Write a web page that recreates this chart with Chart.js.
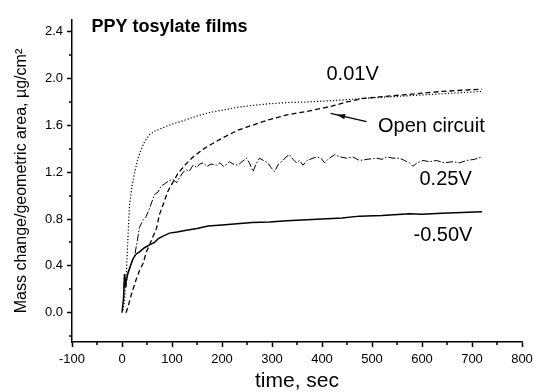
<!DOCTYPE html>
<html>
<head>
<meta charset="utf-8">
<script src="https://cdn.jsdelivr.net/npm/chart.js@4/dist/chart.umd.min.js"></script>
<style>
  html, body { margin: 0; padding: 0; background: #fff; }
  #wrap { width: 534px; height: 392px; }
</style>
</head>
<body>
<div id="wrap"><canvas id="c" width="534" height="392"></canvas></div>
<script>
// PPY tosylate films — mass change vs time, four potentials

// axis ticks
const X_TICKS = [-100, 0, 100, 200, 300, 400, 500, 600, 700, 800];
const X_MINOR = [-50, 50, 150, 250, 350, 450, 550, 650, 750];
const Y_TICKS = [0.0, 0.4, 0.8, 1.2, 1.6, 2.0, 2.4];
const Y_MINOR = [-0.2, 0.2, 0.6, 1.0, 1.4, 1.8, 2.2];

// 0.01V (dotted)
const T_001 = [2, 5, 9, 12, 15, 20, 25, 32, 38, 45, 55, 65, 82, 100, 122, 150, 175, 200, 232, 260, 295, 330, 370, 415, 450, 482, 520, 560, 600, 640, 680, 720];
const V_001 = [0.02, 0.10, 0.36, 0.65, 0.92, 1.08, 1.19, 1.32, 1.39, 1.46, 1.52, 1.55, 1.58, 1.61, 1.64, 1.68, 1.71, 1.73, 1.755, 1.77, 1.785, 1.795, 1.80, 1.81, 1.82, 1.83, 1.84, 1.85, 1.86, 1.87, 1.88, 1.89];

// open circuit (dashed)
const T_OC = [8, 12, 19, 28, 35, 42, 49, 55, 62, 69, 75, 82, 92, 100, 112, 128, 142, 160, 175, 200, 232, 260, 295, 330, 370, 415, 450, 482, 520, 560, 600, 640, 680, 720];
const V_OC = [0.0, 0.05, 0.16, 0.28, 0.36, 0.42, 0.52, 0.58, 0.65, 0.72, 0.84, 0.92, 1.04, 1.10, 1.19, 1.27, 1.33, 1.39, 1.43, 1.49, 1.56, 1.60, 1.65, 1.69, 1.72, 1.76, 1.80, 1.83, 1.845, 1.86, 1.875, 1.89, 1.90, 1.91];

// 0.25V (dash-dot, noisy)
const T_025 = [3, 5, 8, 10, 12, 16, 20, 25, 30, 35, 42, 48, 55, 60, 65, 72, 78, 85, 95, 102, 109, 116, 122, 129, 135, 142, 150, 155, 162, 170, 178, 189, 196, 203, 210, 215, 222, 232, 240, 249, 256, 262, 268, 275, 283, 292, 298, 305, 313, 322, 328, 335, 342, 349, 355, 362, 370, 382, 390, 398, 405, 412, 425, 437, 449, 462, 475, 490, 509, 520, 529, 542, 555, 565, 575, 582, 590, 602, 615, 629, 645, 662, 675, 689, 705, 719];
const V_025 = [0.10, 0.33, 0.22, 0.30, 0.34, 0.38, 0.44, 0.48, 0.60, 0.73, 0.79, 0.82, 0.89, 0.95, 1.01, 1.03, 1.08, 1.10, 1.13, 1.14, 1.11, 1.16, 1.20, 1.22, 1.21, 1.26, 1.24, 1.27, 1.28, 1.25, 1.27, 1.26, 1.28, 1.25, 1.27, 1.29, 1.27, 1.26, 1.29, 1.32, 1.27, 1.205, 1.27, 1.32, 1.30, 1.28, 1.24, 1.205, 1.27, 1.30, 1.33, 1.35, 1.31, 1.28, 1.30, 1.26, 1.30, 1.32, 1.33, 1.32, 1.28, 1.31, 1.35, 1.33, 1.32, 1.33, 1.30, 1.31, 1.32, 1.31, 1.33, 1.32, 1.32, 1.30, 1.28, 1.25, 1.28, 1.30, 1.29, 1.30, 1.28, 1.29, 1.28, 1.30, 1.31, 1.33];

// -0.50V (solid)
const T_050 = [0, 3, 5, 7, 9, 12, 16, 22, 28, 35, 45, 55, 65, 72, 80, 95, 110, 129, 150, 172, 200, 230, 260, 295, 330, 370, 400, 440, 475, 520, 560, 575, 600, 640, 680, 720];
const V_050 = [0.0, 0.12, 0.33, 0.25, 0.28, 0.34, 0.39, 0.46, 0.50, 0.52, 0.555, 0.58, 0.60, 0.63, 0.65, 0.68, 0.69, 0.705, 0.72, 0.74, 0.75, 0.76, 0.77, 0.775, 0.785, 0.795, 0.80, 0.81, 0.825, 0.83, 0.84, 0.845, 0.84, 0.85, 0.855, 0.862];

const FONT = '"Liberation Sans", Arial, sans-serif';

function pts(ts, vs) {
  return ts.map((t, i) => ({ x: t, y: vs[i] }));
}

function series(ts, vs, dash, width) {
  return {
    data: pts(ts, vs),
    borderColor: '#000',
    borderWidth: width,
    borderDash: dash,
    pointRadius: 0,
    tension: 0,
    fill: false
  };
}

// text labels, arrow and minor ticks on top of the plot
const extras = {
  id: 'extras',
  afterDraw(chart) {
    const { ctx } = chart;
    const xs = chart.scales.x, ys = chart.scales.y;
    const px = v => xs.getPixelForValue(v);
    const py = v => ys.getPixelForValue(v);

    ctx.save();
    // minor ticks
    ctx.strokeStyle = '#000';
    ctx.lineWidth = 1.5;
    ctx.beginPath();
    for (const v of X_MINOR) {
      const x = Math.round(px(v));
      ctx.moveTo(x, ys.bottom);
      ctx.lineTo(x, ys.bottom + 3);
    }
    for (const v of Y_MINOR) {
      const y = Math.round(py(v));
      ctx.moveTo(xs.left, y);
      ctx.lineTo(xs.left - 3, y);
    }
    ctx.stroke();

    ctx.fillStyle = '#000';
    ctx.textBaseline = 'alphabetic';
    ctx.textAlign = 'left';
    ctx.font = 'bold 18px ' + FONT;
    ctx.fillText('PPY tosylate films', px(-61), py(2.40));

    ctx.font = '20px ' + FONT;
    ctx.fillText('0.01V', px(409), py(1.985));
    ctx.fillText('Open circuit', px(512), py(1.542));
    ctx.fillText('0.25V', px(595), py(1.091));
    ctx.fillText('-0.50V', px(583), py(0.614));

    // arrow to the open circuit curve
    const x1 = px(489), y1 = py(1.633), x2 = px(429), y2 = py(1.691);
    const a = Math.atan2(y2 - y1, x2 - x1);
    ctx.lineWidth = 1.3;
    ctx.beginPath();
    ctx.moveTo(x1, y1);
    ctx.lineTo(x2 + 6 * Math.cos(a), y2 + 6 * Math.sin(a));
    ctx.stroke();
    ctx.beginPath();
    ctx.moveTo(x2, y2);
    ctx.lineTo(x2 - 9 * Math.cos(a - 0.3), y2 - 9 * Math.sin(a - 0.3));
    ctx.lineTo(x2 - 9 * Math.cos(a + 0.3), y2 - 9 * Math.sin(a + 0.3));
    ctx.closePath();
    ctx.fill();
    ctx.restore();
  }
};

new Chart(document.getElementById('c'), {
  type: 'line',
  data: {
    datasets: [
      series(T_001, V_001, [1.2, 2], 1.2),
      series(T_OC, V_OC, [5, 3], 1.3),
      series(T_025, V_025, [7, 2, 1.5, 2], 1.0),
      series(T_050, V_050, [], 1.5)
    ]
  },
  options: {
    responsive: false,
    animation: false,
    layout: { padding: { top: 20, right: 12, left: 0, bottom: 0 } },
    plugins: {
      legend: { display: false },
      tooltip: { enabled: false }
    },
    scales: {
      x: {
        type: 'linear',
        min: -100,
        max: 800,
        afterBuildTicks: s => { s.ticks = X_TICKS.map(v => ({ value: v })); },
        afterFit: s => { s.height = 50; s.paddingLeft = 0; s.paddingRight = 0; },
        grid: { drawOnChartArea: false, tickLength: 5, tickWidth: 1.5, tickColor: '#000' },
        border: { color: '#000', width: 1.5 },
        ticks: { color: '#000', font: { family: FONT, size: 13 }, padding: 5, maxRotation: 0 },
        title: {
          display: true,
          text: 'time, sec',
          color: '#000',
          font: { family: FONT, size: 21, lineHeight: 1 },
          padding: { top: 0, bottom: 0 }
        }
      },
      y: {
        type: 'linear',
        min: -0.25,
        max: 2.5,
        afterBuildTicks: s => { s.ticks = Y_TICKS.map(v => ({ value: v })); },
        afterFit: s => { s.width = 72; s.paddingTop = 0; s.paddingBottom = 0; },
        grid: { drawOnChartArea: false, tickLength: 5, tickWidth: 1.5, tickColor: '#000' },
        border: { color: '#000', width: 1.5 },
        ticks: {
          color: '#000',
          font: { family: FONT, size: 13 },
          padding: 4,
          callback: v => Number(v).toFixed(1)
        },
        title: {
          display: true,
          text: 'Mass change/geometric area, \u00b5g/cm\u00b2',
          color: '#000',
          font: { family: FONT, size: 16 },
          padding: { top: 12, bottom: 0 }
        }
      }
    }
  },
  plugins: [extras]
});
</script>
</body>
</html>
